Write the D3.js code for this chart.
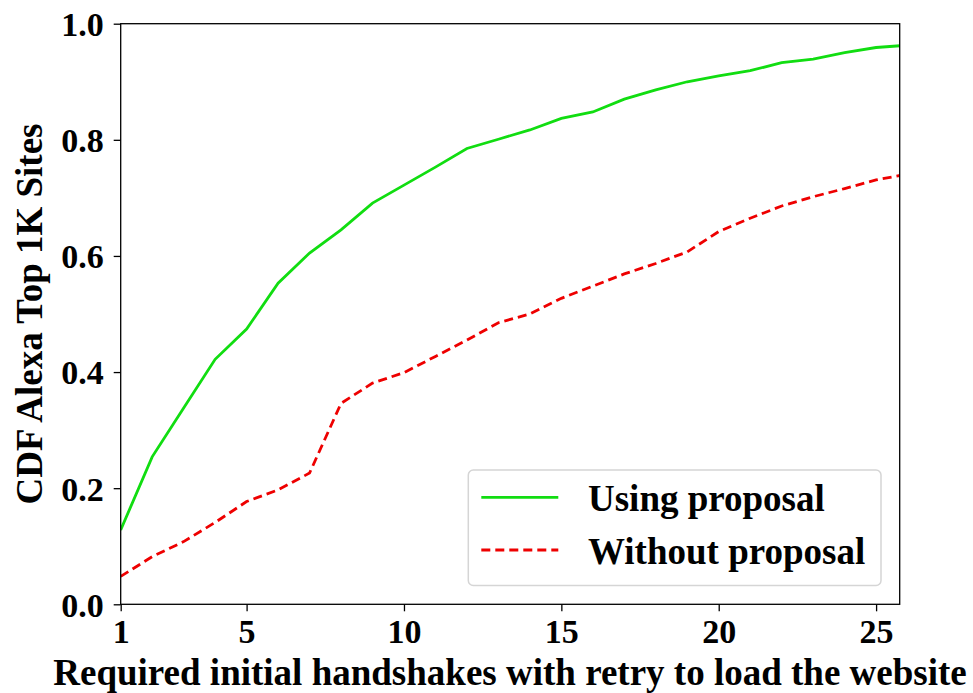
<!DOCTYPE html>
<html>
<head>
<meta charset="utf-8">
<script src="https://cdn.jsdelivr.net/npm/d3@7"></script>
<style>
  body { margin: 0; background: #fff; }
  svg { display: block; }
  text { font-family: "Liberation Serif", "Times New Roman", serif; font-weight: bold; fill: #000; }
</style>
</head>
<body>
<div id="chart"></div>
<script>
// Required handshakes (x) and CDF of Alexa top 1K sites (y)
const handshakes = [1, 2, 3, 4, 5, 6, 7, 8, 9, 10, 11, 12, 13, 14, 15, 16, 17, 18, 19, 20, 21, 22, 23, 24, 25, 26];
const usingProposal = [0.128, 0.254, 0.338, 0.422, 0.474, 0.553, 0.605, 0.645, 0.691, 0.722, 0.753, 0.785,
  0.801, 0.817, 0.837, 0.848, 0.870, 0.886, 0.900, 0.910, 0.919, 0.933, 0.939, 0.950, 0.959, 0.963];
const withoutProposal = [0.048, 0.082, 0.108, 0.141, 0.177, 0.197, 0.226, 0.346, 0.381, 0.399, 0.427, 0.455,
  0.485, 0.500, 0.527, 0.548, 0.569, 0.587, 0.607, 0.642, 0.665, 0.686, 0.702, 0.716, 0.731, 0.741];
const xTicks = [1, 5, 10, 15, 20, 25];
const yTicks = [0, 0.2, 0.4, 0.6, 0.8, 1.0];

const series = [
  { name: 'Using proposal', values: usingProposal, color: '#11dd11', dash: null },
  { name: 'Without proposal', values: withoutProposal, color: '#ee0000', dash: '9,5' }
];

const width = 973, height = 693;
const margin = { top: 23.7, right: 73.3, bottom: 88.7, left: 120.7 };
const innerW = width - margin.left - margin.right;
const innerH = height - margin.top - margin.bottom;

const svg = d3.select('#chart').append('svg')
  .attr('width', width)
  .attr('height', height);

const x = d3.scaleLinear().domain([1, 25.75]).range([0, innerW]);
const y = d3.scaleLinear().domain([0, 1]).range([innerH, 0]);

const g = svg.append('g').attr('transform', `translate(${margin.left},${margin.top})`);

g.append('clipPath').attr('id', 'plot-clip')
  .append('rect').attr('width', innerW).attr('height', innerH);

// Lines
const line = d3.line()
  .x((d, i) => x(handshakes[i]))
  .y(d => y(d));

g.append('g').attr('clip-path', 'url(#plot-clip)')
  .selectAll('path')
  .data(series)
  .enter().append('path')
  .attr('d', d => line(d.values))
  .attr('fill', 'none')
  .attr('stroke', d => d.color)
  .attr('stroke-width', 2.8)
  .attr('stroke-dasharray', d => d.dash);

// Frame
g.append('rect')
  .attr('width', innerW).attr('height', innerH)
  .attr('fill', 'none').attr('stroke', '#000').attr('stroke-width', 1.3);

// Axes
const xAxis = g.append('g')
  .attr('transform', `translate(0,${innerH})`)
  .call(d3.axisBottom(x).tickValues(xTicks).tickFormat(d3.format('d')).tickSize(7).tickPadding(8));

const yAxis = g.append('g')
  .call(d3.axisLeft(y).tickValues(yTicks).tickFormat(d3.format('.1f')).tickSize(7).tickPadding(10));

[xAxis, yAxis].forEach(a => {
  a.select('.domain').remove();
  a.selectAll('line').attr('stroke', '#000').attr('stroke-width', 1.3);
  a.selectAll('text').style('font-size', '34px').style('font-family', '"Liberation Serif", serif').style('font-weight', 'bold');
});
xAxis.selectAll('text').attr('dy', '0.71em');
yAxis.selectAll('text').attr('dy', '0.35em');

// Axis titles
svg.append('text')
  .attr('x', 510)
  .attr('y', 685)
  .attr('text-anchor', 'middle')
  .style('font-size', '37px')
  .text('Required initial handshakes with retry to load the website');

svg.append('text')
  .attr('transform', `translate(42,${margin.top + innerH / 2}) rotate(-90)`)
  .attr('text-anchor', 'middle')
  .style('font-size', '37px')
  .text('CDF Alexa Top 1K Sites');

// Legend
const legend = g.append('g').attr('transform', `translate(${468.3 - margin.left},${470 - margin.top})`);
legend.append('rect')
  .attr('width', 412.7).attr('height', 115.5)
  .attr('rx', 5).attr('ry', 5)
  .attr('fill', '#fff').attr('fill-opacity', 0.8)
  .attr('stroke', '#d5d5d5').attr('stroke-width', 1.5);

const items = legend.selectAll('.item')
  .data(series)
  .enter().append('g')
  .attr('transform', (d, i) => `translate(0,${27.3 + i * 52.7})`);

items.append('line')
  .attr('x1', 13).attr('x2', 90)
  .attr('stroke', d => d.color)
  .attr('stroke-width', 2.8)
  .attr('stroke-dasharray', d => d.dash);

items.append('text')
  .attr('x', 119.7)
  .attr('dy', '0.38em')
  .style('font-size', '37px')
  .text(d => d.name);
</script>
</body>
</html>
